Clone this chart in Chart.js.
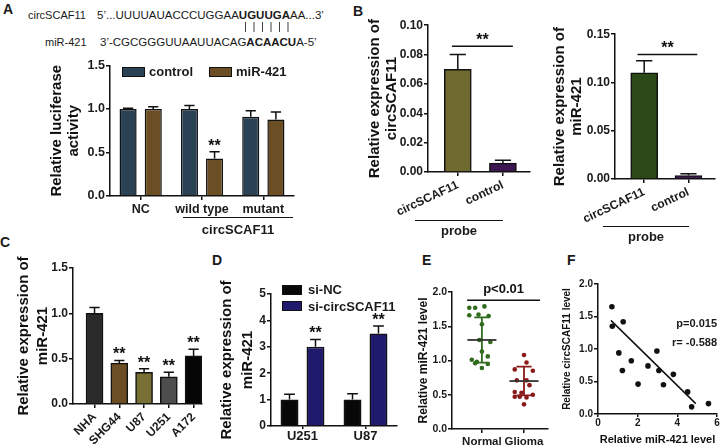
<!DOCTYPE html>
<html lang="en">
<head>
<meta charset="utf-8">
<title>circSCAF11 / miR-421</title>
<script src="https://cdn.jsdelivr.net/npm/chart.js@4.4.1/dist/chart.umd.min.js"></script>
<style>
  html, body { margin: 0; padding: 0; background: #fff; }
  #page { position: relative; width: 721px; height: 447px; overflow: hidden; background: #fff;
          font-family: 'Liberation Sans', Arial, sans-serif; color: #1a1a1a; }
  #page canvas, .txt, .hline, .box { position: absolute; }
  .txt { white-space: nowrap; line-height: 1; }
  .letter { font-size: 14px; font-weight: bold; }
  .name { font-size: 11px; }
  .seq { font-size: 11.5px; }
  .pipes { letter-spacing: 5.5px; color: #333; will-change: transform; }
  .lab { font-size: 13px; font-weight: bold; }
  .note { font-size: 11px; font-weight: bold; right: 4px; }
  .hline { height: 0; border-top: 1.5px solid #111; }
  .box { box-sizing: border-box; border: 1.5px solid #111; }
</style>
</head>
<body>
<div id="page">
  <div class="txt letter" style="left:3px;top:2px">A</div>
  <div class="txt letter" style="left:353px;top:4px">B</div>
  <div class="txt letter" style="left:0px;top:235px">C</div>
  <div class="txt letter" style="left:212px;top:253px">D</div>
  <div class="txt letter" style="left:422px;top:253px">E</div>
  <div class="txt letter" style="left:567px;top:253px">F</div>

  <div class="txt name" style="left:28px;top:9.5px">circSCAF11</div>
  <div class="txt seq" style="left:97px;top:9.5px">5’...UUUUAUACCCUGGAA<b>UGUUGA</b>AA...3’</div>
  <div class="txt seq pipes" style="left:244px;top:21px">||||||</div>
  <div class="txt name" style="left:45px;top:36.5px">miR-421</div>
  <div class="txt seq" style="left:100px;top:36.5px">3’-CGCGGGUUAAUUACAG<b>ACAACU</b>A-5’</div>

  <canvas id="chartA" width="248" height="163" style="left:48px;top:57px"></canvas>
  <div class="hline" style="left:183px;top:217px;width:110px"></div>
  <div class="txt lab" style="left:183px;top:222.5px;width:110px;text-align:center">circSCAF11</div>

  <canvas id="chartB1" width="166" height="203" style="left:366px;top:17px"></canvas>
  <div class="hline" style="left:415px;top:220px;width:88px"></div>
  <div class="txt lab" style="left:415px;top:223.5px;width:88px;text-align:center">probe</div>

  <canvas id="chartB2" width="170" height="198" style="left:551px;top:26px"></canvas>
  <div class="hline" style="left:603px;top:226px;width:86px"></div>
  <div class="txt lab" style="left:603px;top:229.5px;width:86px;text-align:center">probe</div>

  <canvas id="chartC" width="194" height="199" style="left:14px;top:248px"></canvas>
  <canvas id="chartD" width="184" height="173" style="left:217px;top:274px"></canvas>
  <canvas id="chartE" width="135" height="163" style="left:417px;top:284px"></canvas>
  <canvas id="chartF" width="160" height="171" style="left:561px;top:276px"></canvas>

  <div class="txt note" style="top:317.5px">p=0.015</div>
  <div class="txt note" style="top:336.5px">r= -0.588</div>
</div>

<script>
'use strict';

// ------------------------- data -------------------------
// A: luciferase reporter
var groupsA = ['NC', 'wild type', 'mutant'];
var seriesA = ['control', 'miR-421'];
var controlA = [1.0, 1.0, 0.91];
var controlErrA = [0.01, 0.04, 0.07];
var mirA = [1.0, 0.43, 0.88];
var mirErrA = [0.025, 0.08, 0.085];
var mirStarsA = ['', '**', ''];
var yTicksA = [0, 0.5, 1.0, 1.5];

// B: pull-down with the circSCAF11 probe
var probesB = ['circSCAF11', 'control'];
var circB = [0.070, 0.006];
var circErrB = [0.010, 0.002];
var yTicksB1 = [0, 0.02, 0.04, 0.06, 0.08, 0.10];
var mirB = [0.110, 0.0035];
var mirErrB = [0.0125, 0.002];
var yTicksB2 = [0, 0.05, 0.10, 0.15];

// C: miR-421 in the cell lines
var cellsC = ['NHA', 'SHG44', 'U87', 'U251', 'A172'];
var mirC = [1.0, 0.45, 0.35, 0.30, 0.53];
var mirErrC = [0.065, 0.03, 0.04, 0.05, 0.075];
var starsC = ['', '**', '**', '**', '**'];
var yTicksC = [0, 0.5, 1.0, 1.5];

// D: miR-421 after knockdown
var cellsD = ['U251', 'U87'];
var seriesD = ['si-NC', 'si-circSCAF11'];
var siNcD = [1.0, 1.0];
var siNcErrD = [0.2, 0.22];
var siCircD = [3.0, 3.5];
var siCircErrD = [0.28, 0.29];
var starsD = ['**', '**'];
var yTicksD = [0, 1, 2, 3, 4, 5];

// E: tissue samples (jitter = horizontal spread of the dots)
var tissuesE = ['Normal', 'Glioma'];
var positionsE = [1, 2];
var normalE = [1.77, 1.77, 1.79, 1.67, 1.66, 1.65, 1.53, 1.30, 1.27, 1.13, 1.06, 1.01, 0.98, 0.96, 0.95, 0.89];
var normalJitterE = [-0.30, -0.16, 0.06, -0.08, -0.30, 0.16, 0, -0.06, 0.20, 0, 0.14, -0.24, -0.12, -0.16, 0.14, 0];
var gliomaE = [1.08, 0.97, 0.87, 0.85, 0.71, 0.71, 0.64, 0.54, 0.53, 0.50, 0.47, 0.47, 0.46, 0.36];
var gliomaJitterE = [0, 0.06, -0.22, 0.21, -0.17, 0.06, 0.13, -0.22, -0.06, 0.21, -0.22, -0.1, 0.06, 0];
var meanE = [1.30, 0.70];
var sdLowE = [0.97, 0.49];
var sdHighE = [1.63, 0.91];
var yTicksE = [0, 0.5, 1.0, 1.5, 2.0];

// F: correlation
var mirF = [0.70, 0.72, 1.27, 1.05, 1.68, 1.23, 2.02, 2.52, 2.97, 3.07, 3.30, 3.80, 4.52, 4.72, 5.57];
var circF = [1.65, 1.35, 1.42, 0.94, 0.82, 0.67, 0.46, 0.74, 0.97, 0.67, 0.45, 0.61, 0.34, 0.11, 0.16];
var fitMirF = [0.65, 4.93];
var fitCircF = [1.44, 0.16];
var xTicksF = [0, 2, 4, 6];
var yTicksF = [0, 0.5, 1.0, 1.5, 2.0];

// ------------------------- common settings -------------------------
var FONT = "'Liberation Sans', Arial, sans-serif";
var INK = '#111';
Chart.defaults.font.family = FONT;
Chart.defaults.color = '#1a1a1a';
Chart.defaults.animation = false;
Chart.defaults.responsive = false;
Chart.defaults.devicePixelRatio = 1;
Chart.defaults.events = [];
Chart.defaults.plugins.legend.display = false;
Chart.defaults.plugins.tooltip.enabled = false;

function setTicks(values) {
  return function (scale) {
    scale.ticks = values.map(function (v) { return { value: v }; });
  };
}

function yAxis(ticks, digits, width, title, titleSize, tickSize, titleLine) {
  return {
    min: ticks[0],
    max: ticks[ticks.length - 1],
    afterBuildTicks: setTicks(ticks),
    afterFit: function (scale) { scale.width = width; },
    border: { color: INK, width: 1.5 },
    grid: { drawOnChartArea: false, tickLength: 4, color: INK, lineWidth: 1.5 },
    ticks: {
      padding: 1,
      font: { size: tickSize, weight: 'bold' },
      callback: function (v) { return Number(v).toFixed(digits); }
    },
    title: {
      display: true, text: title, color: INK, padding: 0,
      font: { size: titleSize, weight: 'bold', lineHeight: titleLine || 1.15 }
    }
  };
}

function catAxis(height, fontSize, tickLength, padding) {
  return {
    type: 'category',
    offset: true,
    afterFit: function (scale) { scale.height = height; },
    border: { color: INK, width: 1.5 },
    grid: { offset: false, drawOnChartArea: false, tickLength: tickLength, color: INK, lineWidth: 1.5 },
    ticks: { padding: padding, autoSkip: false, maxRotation: 0, font: { size: fontSize, weight: 'bold' } }
  };
}

// linear x axis that behaves like a category axis (lets the bars sit off the y axis)
function indexAxis(labels, positions, min, max, height, fontSize, rotation) {
  return {
    type: 'linear',
    min: min,
    max: max,
    offset: false,
    afterBuildTicks: setTicks(positions),
    afterFit: function (scale) { scale.height = height; },
    border: { color: INK, width: 1.5 },
    grid: { offset: false, drawOnChartArea: false, tickLength: 4, color: INK, lineWidth: 1.5 },
    ticks: {
      padding: 2, autoSkip: false, minRotation: rotation, maxRotation: rotation,
      font: { size: fontSize, weight: 'bold' },
      callback: function (v) { return labels[positions.indexOf(v)]; }
    }
  };
}

function points(xs, ys) {
  return xs.map(function (x, i) { return { x: x, y: ys[i] }; });
}

function legendItem(text, color, boxX, boxY, boxW, boxH, textX, textY) {
  var page = document.getElementById('page');
  var box = document.createElement('div');
  box.className = 'box';
  box.style.cssText = 'left:' + boxX + 'px;top:' + boxY + 'px;width:' + boxW + 'px;height:' + boxH + 'px;background:' + color;
  page.appendChild(box);
  var label = document.createElement('div');
  label.className = 'txt lab';
  label.style.left = textX + 'px';
  label.style.top = textY + 'px';
  label.textContent = text;
  page.appendChild(label);
}

// ------------------------- plugins -------------------------
// upper error arm + cap, and the ** above it
var errorBars = {
  id: 'errorBars',
  afterDatasetsDraw: function (chart) {
    var ctx = chart.ctx;
    var yScale = chart.scales.y;
    ctx.save();
    ctx.strokeStyle = INK;
    ctx.fillStyle = INK;
    ctx.lineWidth = 1.5;
    ctx.font = 'bold 16px ' + FONT;
    ctx.textAlign = 'center';
    ctx.textBaseline = 'alphabetic';
    chart.data.datasets.forEach(function (ds, i) {
      if (!ds.errors) return;
      var meta = chart.getDatasetMeta(i);
      meta.data.forEach(function (bar, j) {
        var value = meta.controller.getParsed(j).y;
        var top = yScale.getPixelForValue(value + ds.errors[j]);
        var cap = bar.width * 0.3;
        ctx.beginPath();
        ctx.moveTo(bar.x, bar.y);
        ctx.lineTo(bar.x, top);
        ctx.moveTo(bar.x - cap, top);
        ctx.lineTo(bar.x + cap, top);
        ctx.stroke();
        if (ds.stars && ds.stars[j]) {
          ctx.fillText(ds.stars[j], bar.x, top - 1);
        }
      });
    });
    ctx.restore();
  }
};

// horizontal significance line with its label
function bracket(from, to, level, text, size, gap) {
  return {
    id: 'bracket',
    afterDatasetsDraw: function (chart) {
      var ctx = chart.ctx;
      var x0 = chart.scales.x.getPixelForValue(from);
      var x1 = chart.scales.x.getPixelForValue(to);
      var yy = chart.scales.y.getPixelForValue(level);
      ctx.save();
      ctx.strokeStyle = INK;
      ctx.lineWidth = 1.5;
      ctx.beginPath();
      ctx.moveTo(x0, yy);
      ctx.lineTo(x1, yy);
      ctx.stroke();
      ctx.fillStyle = INK;
      ctx.font = 'bold ' + size + 'px ' + FONT;
      ctx.textAlign = 'center';
      ctx.textBaseline = 'alphabetic';
      ctx.fillText(text, (x0 + x1) / 2, yy - gap);
      ctx.restore();
    }
  };
}

// mean line and SD whiskers for panel E
var colorsE = ['#2f6a1f', '#8a1a1a'];
var meanSd = {
  id: 'meanSd',
  afterDatasetsDraw: function (chart) {
    var ctx = chart.ctx;
    var x = chart.scales.x;
    var y = chart.scales.y;
    ctx.save();
    ctx.lineWidth = 1.8;
    positionsE.forEach(function (p, i) {
      var c = x.getPixelForValue(p);
      var half = x.getPixelForValue(p + 0.345) - c;
      var cap = x.getPixelForValue(p + 0.18) - c;
      var lo = y.getPixelForValue(sdLowE[i]);
      var hi = y.getPixelForValue(sdHighE[i]);
      var m = y.getPixelForValue(meanE[i]);
      ctx.strokeStyle = colorsE[i];
      ctx.beginPath();
      ctx.moveTo(c, lo);
      ctx.lineTo(c, hi);
      ctx.moveTo(c - cap, lo);
      ctx.lineTo(c + cap, lo);
      ctx.moveTo(c - cap, hi);
      ctx.lineTo(c + cap, hi);
      ctx.stroke();
      ctx.strokeStyle = '#333';
      ctx.beginPath();
      ctx.moveTo(c - half, m);
      ctx.lineTo(c + half, m);
      ctx.stroke();
    });
    ctx.restore();
  }
};

// ------------------------- A -------------------------
var colorsA = ['#2b4154', '#6b4e23'];
new Chart(document.getElementById('chartA'), {
  type: 'bar',
  data: {
    labels: groupsA,
    datasets: [
      { label: seriesA[0], data: controlA, errors: controlErrA, backgroundColor: colorsA[0],
        borderColor: INK, borderWidth: 1.5, categoryPercentage: 0.82, barPercentage: 0.68 },
      { label: seriesA[1], data: mirA, errors: mirErrA, stars: mirStarsA, backgroundColor: colorsA[1],
        borderColor: INK, borderWidth: 1.5, categoryPercentage: 0.82, barPercentage: 0.68 }
    ]
  },
  options: {
    layout: { padding: { top: 8, right: 2, left: 0, bottom: 0 } },
    scales: {
      x: catAxis(24, 12.5, 4, 2),
      y: yAxis(yTicksA, 1, 62, ['Relative luciferase', 'activity'], 15, 12.5)
    }
  },
  plugins: [errorBars]
});
legendItem(seriesA[0], colorsA[0], 122, 66.5, 23, 10.5, 149, 65.3);
legendItem(seriesA[1], colorsA[1], 209, 66.5, 23, 10.5, 236, 65.3);

// ------------------------- B -------------------------
new Chart(document.getElementById('chartB1'), {
  type: 'bar',
  data: {
    datasets: [{
      data: points([0, 1], circB), errors: circErrB,
      backgroundColor: ['#6f6a30', '#3b1650'], borderColor: INK, borderWidth: 1.5, barThickness: 27
    }]
  },
  options: {
    layout: { padding: { top: 8, right: 2, left: 0, bottom: 0 } },
    scales: {
      x: indexAxis(probesB, [0, 1], -0.66, 1.6, 48, 12, 25),
      y: yAxis(yTicksB1, 2, 62, ['Relative expression of', 'circSCAF11'], 15, 12)
    }
  },
  plugins: [errorBars, bracket(-0.13, 1.22, 0.0857, '**', 16, 1)]
});

new Chart(document.getElementById('chartB2'), {
  type: 'bar',
  data: {
    datasets: [{
      data: points([0, 1], mirB), errors: mirErrB,
      backgroundColor: ['#2c4a17', '#3b1650'], borderColor: INK, borderWidth: 1.5, barThickness: 27
    }]
  },
  options: {
    layout: { padding: { top: 8, right: 6, left: 0, bottom: 0 } },
    scales: {
      x: indexAxis(probesB, [0, 1], -0.66, 1.6, 45, 12, 25),
      y: yAxis(yTicksB2, 2, 64, ['Relative expression of', 'miR-421'], 15, 12)
    }
  },
  plugins: [errorBars, bracket(-0.15, 1.2, 0.129, '**', 16, 1)]
});

// ------------------------- C -------------------------
new Chart(document.getElementById('chartC'), {
  type: 'bar',
  data: {
    datasets: [{
      data: points([0, 1, 2, 3, 4], mirC), errors: mirErrC, stars: starsC,
      backgroundColor: ['#2a2a2a', '#6b4e23', '#787035', '#4d4d4d', '#050505'],
      borderColor: INK, borderWidth: 1.5, barThickness: 17
    }]
  },
  options: {
    layout: { padding: { top: 20, right: 6, left: 0, bottom: 0 } },
    scales: {
      x: indexAxis(cellsC, [0, 1, 2, 3, 4], -0.87, 4.34, 43, 12, 45),
      y: yAxis(yTicksC, 1, 59, ['Relative expression of', 'miR-421'], 15, 12, 1.3)
    }
  },
  plugins: [errorBars]
});

// ------------------------- D -------------------------
var colorsD = ['#080808', '#1f1a6b'];
new Chart(document.getElementById('chartD'), {
  type: 'bar',
  data: {
    labels: cellsD,
    datasets: [
      { label: seriesD[0], data: siNcD, errors: siNcErrD, backgroundColor: colorsD[0],
        borderColor: INK, borderWidth: 1.5, categoryPercentage: 0.825, barPercentage: 0.69 },
      { label: seriesD[1], data: siCircD, errors: siCircErrD, stars: starsD, backgroundColor: colorsD[1],
        borderColor: INK, borderWidth: 1.5, categoryPercentage: 0.825, barPercentage: 0.69 }
    ]
  },
  options: {
    layout: { padding: { top: 20, right: 4, left: 0, bottom: 0 } },
    scales: {
      x: catAxis(21, 13, 3, 0),
      y: yAxis(yTicksD, 0, 54, ['Relative expression of', 'miR-421'], 15, 12, 1.35)
    }
  },
  plugins: [errorBars]
});
legendItem(seriesD[0], colorsD[0], 282, 285, 20, 9.5, 308, 283.3);
legendItem(seriesD[1], colorsD[1], 282, 301, 20, 9.5, 308, 299.6);

// ------------------------- E -------------------------
new Chart(document.getElementById('chartE'), {
  type: 'scatter',
  data: {
    datasets: [
      { label: tissuesE[0], data: points(normalJitterE.map(function (j) { return positionsE[0] + j; }), normalE),
        backgroundColor: colorsE[0], pointRadius: 2.3, pointBorderWidth: 0 },
      { label: tissuesE[1], data: points(gliomaJitterE.map(function (j) { return positionsE[1] + j; }), gliomaE),
        backgroundColor: colorsE[1], pointRadius: 2.3, pointBorderWidth: 0 }
    ]
  },
  options: {
    layout: { padding: { top: 8, right: 4, left: 0, bottom: 0 } },
    scales: {
      x: indexAxis(tissuesE, positionsE, 0.29, 2.57, 18, 11.5, 0),
      y: yAxis(yTicksE, 1, 35, 'Relative miR-421 level', 12, 10.5)
    }
  },
  plugins: [meanSd, bracket(0.65, 2.38, 1.88, 'p<0.01', 13, 7)]
});

// ------------------------- F -------------------------
new Chart(document.getElementById('chartF'), {
  type: 'scatter',
  data: {
    datasets: [
      { data: points(mirF, circF), backgroundColor: INK, pointRadius: 2.8, pointBorderWidth: 0 },
      { data: points(fitMirF, fitCircF), showLine: true, borderColor: INK, borderWidth: 1.5, pointRadius: 0 }
    ]
  },
  options: {
    layout: { padding: { top: 8, right: 3, left: 0, bottom: 0 } },
    scales: {
      x: {
        type: 'linear',
        min: xTicksF[0],
        max: xTicksF[xTicksF.length - 1],
        afterBuildTicks: setTicks(xTicksF),
        afterFit: function (scale) { scale.height = 33; },
        border: { color: INK, width: 1.5 },
        grid: { drawOnChartArea: false, tickLength: 3, color: INK, lineWidth: 1.5 },
        ticks: { padding: 0, font: { size: 10, weight: 'bold' }, callback: function (v) { return Number(v).toFixed(0); } },
        title: { display: true, text: 'Relative miR-421 level', color: INK, padding: 0, font: { size: 11, weight: 'bold' } }
      },
      y: yAxis(yTicksF, 1, 37, 'Relative circSCAF11 level', 10, 10)
    }
  }
});
</script>
</body>
</html>
